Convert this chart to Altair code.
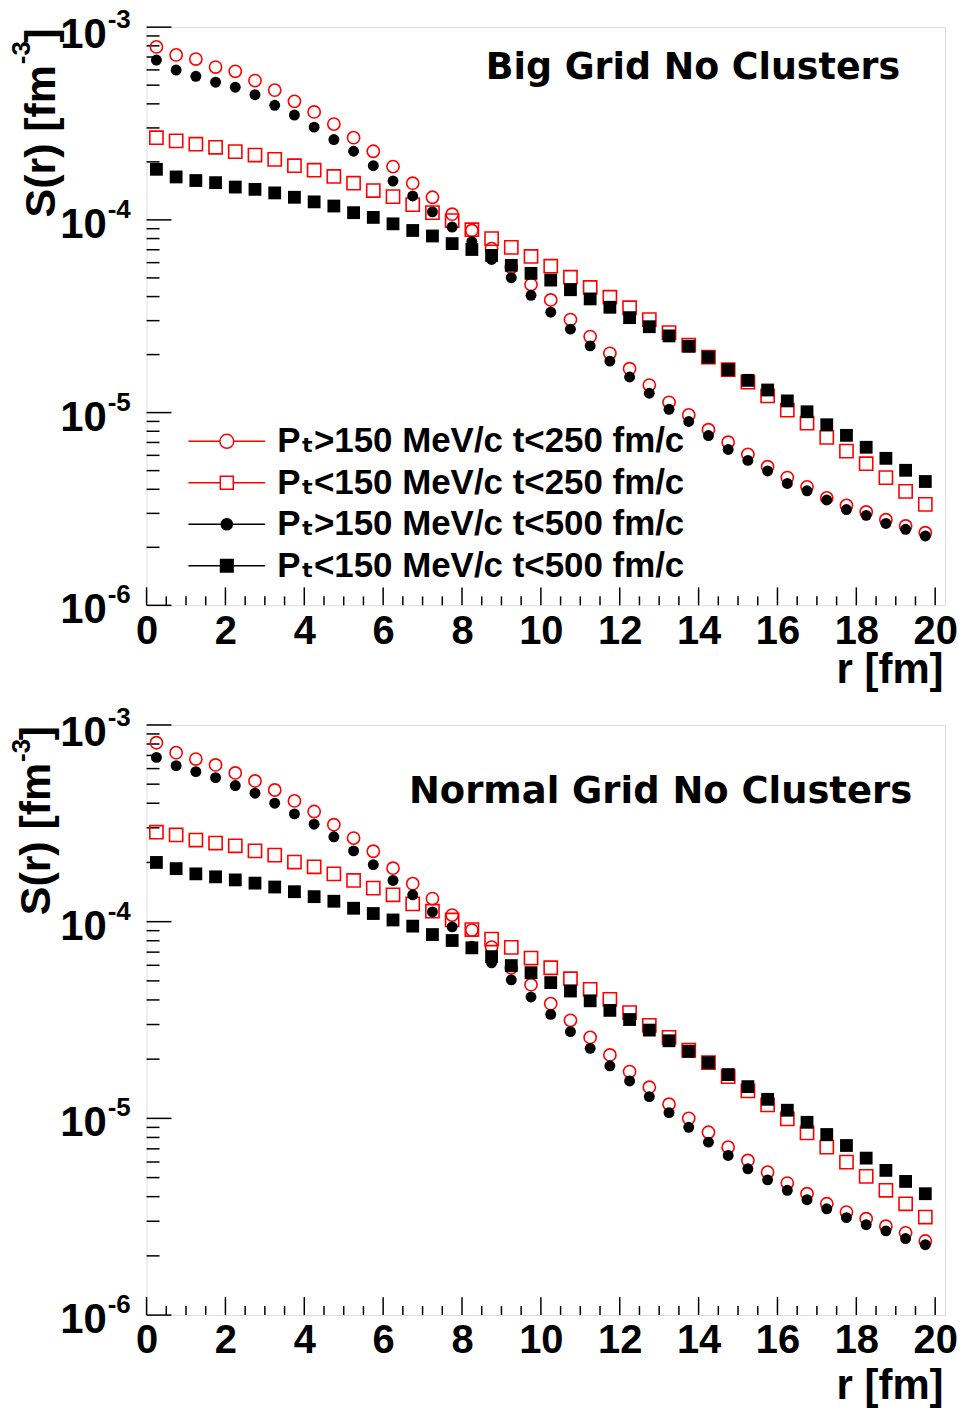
import altair as alt
import pandas as pd

FONT = "Liberation Sans, Arial, DejaVu Sans, sans-serif"
TFONT = "DejaVu Sans, Liberation Sans, sans-serif"

r_values = [0.25, 0.75, 1.25, 1.75, 2.25, 2.75, 3.25, 3.75, 4.25, 4.75,
            5.25, 5.75, 6.25, 6.75, 7.25, 7.75, 8.25, 8.75, 9.25, 9.75,
            10.25, 10.75, 11.25, 11.75, 12.25, 12.75, 13.25, 13.75, 14.25, 14.75,
            15.25, 15.75, 16.25, 16.75, 17.25, 17.75, 18.25, 18.75, 19.25, 19.75]

series_names = ["Pₜ>150 MeV/c t<250 fm/c", "Pₜ<150 MeV/c t<250 fm/c",
                "Pₜ>150 MeV/c t<500 fm/c", "Pₜ<150 MeV/c t<500 fm/c"]
panel_titles = ["Big Grid No Clusters", "Normal Grid No Clusters"]

# ---- top panel (Big Grid) ----
top_circ_red = [7.90e-4, 7.18e-4, 6.83e-4, 6.21e-4, 5.90e-4, 5.28e-4, 4.71e-4, 4.12e-4, 3.63e-4, 3.14e-4,
                2.67e-4, 2.27e-4, 1.89e-4, 1.55e-4, 1.31e-4, 1.07e-4, 8.81e-5, 7.10e-5, 5.67e-5, 4.62e-5,
                3.84e-5, 3.04e-5, 2.48e-5, 2.03e-5, 1.69e-5, 1.39e-5, 1.13e-5, 9.73e-6, 8.15e-6, 7.02e-6,
                6.07e-6, 5.24e-6, 4.60e-6, 4.12e-6, 3.61e-6, 3.30e-6, 3.05e-6, 2.78e-6, 2.58e-6, 2.38e-6]
top_sq_red = [2.67e-4, 2.57e-4, 2.47e-4, 2.38e-4, 2.26e-4, 2.17e-4, 2.06e-4, 1.91e-4, 1.81e-4, 1.68e-4,
              1.55e-4, 1.42e-4, 1.32e-4, 1.20e-4, 1.09e-4, 9.92e-5, 8.89e-5, 7.99e-5, 7.20e-5, 6.46e-5,
              5.75e-5, 5.04e-5, 4.46e-5, 3.97e-5, 3.50e-5, 3.04e-5, 2.60e-5, 2.24e-5, 1.94e-5, 1.67e-5,
              1.44e-5, 1.22e-5, 1.03e-5, 8.81e-6, 7.44e-6, 6.31e-6, 5.43e-6, 4.60e-6, 3.90e-6, 3.34e-6]
top_circ_blk = [6.75e-4, 5.99e-4, 5.56e-4, 5.18e-4, 4.88e-4, 4.46e-4, 3.93e-4, 3.50e-4, 3.03e-4, 2.61e-4,
                2.27e-4, 1.91e-4, 1.59e-4, 1.33e-4, 1.10e-4, 9.18e-5, 7.71e-5, 6.23e-5, 5.01e-5, 4.06e-5,
                3.32e-5, 2.71e-5, 2.22e-5, 1.85e-5, 1.53e-5, 1.26e-5, 1.04e-5, 8.99e-6, 7.60e-6, 6.44e-6,
                5.65e-6, 4.98e-6, 4.29e-6, 3.93e-6, 3.52e-6, 3.14e-6, 2.93e-6, 2.66e-6, 2.48e-6, 2.29e-6]
top_sq_blk = [1.83e-4, 1.67e-4, 1.60e-4, 1.56e-4, 1.48e-4, 1.44e-4, 1.38e-4, 1.31e-4, 1.24e-4, 1.18e-4,
              1.09e-4, 1.03e-4, 9.54e-5, 8.81e-5, 8.25e-5, 7.53e-5, 7.02e-5, 6.54e-5, 5.81e-5, 5.28e-5,
              4.87e-5, 4.34e-5, 3.89e-5, 3.52e-5, 3.11e-5, 2.79e-5, 2.50e-5, 2.21e-5, 1.94e-5, 1.67e-5,
              1.47e-5, 1.31e-5, 1.15e-5, 1.01e-5, 8.65e-6, 7.62e-6, 6.61e-6, 5.79e-6, 5.02e-6, 4.39e-6]

# ---- bottom panel (Normal Grid) ----
bot_circ_red = [8.12e-4, 7.23e-4, 6.71e-4, 6.26e-4, 5.70e-4, 5.19e-4, 4.67e-4, 4.11e-4, 3.63e-4, 3.11e-4,
                2.66e-4, 2.28e-4, 1.87e-4, 1.56e-4, 1.31e-4, 1.08e-4, 9.06e-5, 7.43e-5, 5.83e-5, 4.78e-5,
                3.83e-5, 3.15e-5, 2.58e-5, 2.10e-5, 1.73e-5, 1.44e-5, 1.18e-5, 1.00e-5, 8.50e-6, 7.14e-6,
                6.11e-6, 5.33e-6, 4.69e-6, 4.14e-6, 3.68e-6, 3.34e-6, 3.09e-6, 2.83e-6, 2.62e-6, 2.38e-6]
bot_sq_red = [2.85e-4, 2.76e-4, 2.60e-4, 2.51e-4, 2.43e-4, 2.29e-4, 2.18e-4, 2.01e-4, 1.90e-4, 1.75e-4,
              1.62e-4, 1.48e-4, 1.37e-4, 1.23e-4, 1.13e-4, 1.02e-4, 9.12e-5, 8.16e-5, 7.40e-5, 6.53e-5,
              5.83e-5, 5.13e-5, 4.53e-5, 4.03e-5, 3.45e-5, 2.97e-5, 2.58e-5, 2.22e-5, 1.92e-5, 1.63e-5,
              1.38e-5, 1.17e-5, 9.93e-6, 8.43e-6, 7.14e-6, 5.99e-6, 5.07e-6, 4.31e-6, 3.68e-6, 3.15e-6]
bot_circ_blk = [6.84e-4, 6.21e-4, 5.79e-4, 5.40e-4, 4.92e-4, 4.50e-4, 4.00e-4, 3.53e-4, 3.13e-4, 2.70e-4,
                2.29e-4, 1.95e-4, 1.62e-4, 1.37e-4, 1.12e-4, 9.41e-5, 7.51e-5, 6.18e-5, 5.06e-5, 4.14e-5,
                3.38e-5, 2.76e-5, 2.27e-5, 1.85e-5, 1.55e-5, 1.29e-5, 1.07e-5, 9.01e-6, 7.57e-6, 6.48e-6,
                5.54e-6, 4.87e-6, 4.31e-6, 3.86e-6, 3.47e-6, 3.13e-6, 2.88e-6, 2.68e-6, 2.45e-6, 2.28e-6]
bot_sq_blk = [2.00e-4, 1.86e-4, 1.75e-4, 1.69e-4, 1.63e-4, 1.57e-4, 1.50e-4, 1.42e-4, 1.34e-4, 1.27e-4,
              1.17e-4, 1.10e-4, 1.02e-4, 9.49e-5, 8.60e-5, 8.02e-5, 7.36e-5, 6.64e-5, 5.98e-5, 5.50e-5,
              4.90e-5, 4.44e-5, 3.96e-5, 3.54e-5, 3.18e-5, 2.81e-5, 2.48e-5, 2.19e-5, 1.92e-5, 1.67e-5,
              1.45e-5, 1.25e-5, 1.10e-5, 9.55e-6, 8.28e-6, 7.28e-6, 6.28e-6, 5.44e-6, 4.78e-6, 4.14e-6]

# ---- axes ticks / labels ----
x_major = [0, 2, 4, 6, 8, 10, 12, 14, 16, 18, 20]
x_minor = [i * 0.5 for i in range(41) if i % 4]
y_major = [1e-6, 1e-5, 1e-4, 1e-3]
y_minor = [m * 10.0 ** e for e in (-6, -5, -4) for m in range(2, 10)]
y_tick_base = ["10", "10", "10", "10"]
y_tick_exp = ["-6", "-5", "-4", "-3"]
y_title_parts = ["S(r) [fm", "-3", "]"]
x_title = "r [fm]"

# ---- styles ----
stroke_colors = ["#ff0000", "#ff0000", "#000000", "#000000"]
fill_colors = ["transparent", "transparent", "#000000", "#000000"]
legend_paths = [
    "M-5.5,0H-1M1,0H5.5M1,0A1,1,0,1,1,-1,0A1,1,0,1,1,1,0Z",
    "M-5.5,0H-0.93M0.93,0H5.5M-0.93,-0.93H0.93V0.93H-0.93Z",
    "M-5.5,0H5.5M0.8,0A0.8,0.8,0,1,1,-0.8,0A0.8,0.8,0,1,1,0.8,0Z",
    "M-5.5,0H5.5M-0.9,-0.9H0.9V0.9H-0.9Z",
]
marker_styles = [
    dict(shape="circle", filled=False, color="#ff0000", size=150, strokeWidth=1.6),
    dict(shape="square", filled=False, color="#ff0000", size=175, strokeWidth=1.6),
    dict(shape="circle", filled=True, color="#000000", size=120),
    dict(shape="square", filled=True, color="#000000", size=165),
]

XMAX = 20.25
W = 801
TXT = dict(font=FONT, fontWeight="bold", color="black")


def panel(series_vals, title_text, H, yt_main_x, yt_exp_x, xtitle_y, title_x, title_y, title_size,
          legend=False):
    xs = alt.Scale(domain=[0, XMAX], nice=False, zero=False)
    ys = alt.Scale(type="log", domain=[1e-6, 1e-3], nice=False)
    x_axis = alt.Axis(values=x_major, format="d", labelFont=FONT, labelFontSize=40, labelFontWeight="bold",
                      labelColor="black", labelPadding=6, ticks=False, domain=False, grid=False,
                      labelFlush=False, labelOverlap=False, labelBound=False,
                      title=x_title, titleFont=FONT, titleFontSize=42, titleFontWeight="bold",
                      titleColor="black", titleAlign="right", titleAnchor="end", titleBaseline="alphabetic",
                      titleX=W - 2, titleY=xtitle_y)
    X = alt.X("r:Q", scale=xs, axis=x_axis)
    Y = alt.Y("S:Q", scale=ys, axis=None)

    layers = []
    # ticks pointing inward
    layers.append(alt.Chart(pd.DataFrame({"r": x_major})).mark_rule(color="black", strokeWidth=1.5)
                  .encode(x=X, y=alt.value(H), y2=alt.value(H - 18)))
    layers.append(alt.Chart(pd.DataFrame({"r": x_minor})).mark_rule(color="black", strokeWidth=1.5)
                  .encode(x=X, y=alt.value(H), y2=alt.value(H - 9)))
    layers.append(alt.Chart(pd.DataFrame({"S": y_major})).mark_rule(color="black", strokeWidth=1.5)
                  .encode(y=Y, x=alt.value(0), x2=alt.value(25)))
    layers.append(alt.Chart(pd.DataFrame({"S": y_minor})).mark_rule(color="black", strokeWidth=1.5)
                  .encode(y=Y, x=alt.value(0), x2=alt.value(13)))
    # y tick labels 10^n (top decade label pushed slightly down, as in ROOT)
    ylab = pd.DataFrame({"S": y_major, "base": y_tick_base, "exp": y_tick_exp})
    for cond, dyb, dye in (("datum.S < 5e-4", 18, -2), ("datum.S >= 5e-4", 21, 1)):
        base = alt.Chart(ylab).transform_filter(cond)
        layers.append(base.mark_text(fontSize=42, align="right", baseline="alphabetic", dy=dyb, **TXT)
                      .encode(y=Y, x=alt.value(-40), text="base:N"))
        layers.append(base.mark_text(fontSize=26, align="left", baseline="alphabetic", dy=dye, **TXT)
                      .encode(y=Y, x=alt.value(-39), text="exp:N"))
    # y axis title S(r) [fm^-3], rotated
    for txt, size, xx, yy in ((y_title_parts[0], 43, yt_main_x, 38),
                              (y_title_parts[1], 26, yt_exp_x, 14),
                              (y_title_parts[2], 43, yt_main_x, 1)):
        layers.append(alt.Chart(pd.DataFrame({"t": [txt]})).mark_text(
            fontSize=size, angle=270, align="right", baseline="alphabetic", **TXT)
            .encode(text="t:N", x=alt.value(xx), y=alt.value(yy)))
    # data series
    for name, vals, st in zip(series_names, series_vals, marker_styles):
        df = pd.DataFrame({"r": r_values, "S": vals, "series": name})
        layers.append(alt.Chart(df).mark_point(opacity=1, **st).encode(x=X, y=Y))
    # panel title
    layers.append(alt.Chart(pd.DataFrame({"t": [title_text]})).mark_text(
        font=TFONT, fontSize=title_size, fontWeight="bold", color="black", align="right",
        baseline="alphabetic").encode(text="t:N", x=alt.value(title_x), y=alt.value(title_y)))
    if legend:
        leg = alt.Legend(title=None, orient="none", legendX=63, legendY=398, padding=0,
                         labelFont=FONT, labelFontSize=35, labelFontWeight="bold", labelColor="black",
                         labelLimit=0, labelOffset=33, rowPadding=5.6, symbolSize=196,
                         symbolStrokeWidth=1.5)
        leg_df = pd.DataFrame({"series": series_names})
        layers.append(alt.Chart(leg_df).transform_filter("false").mark_point(opacity=1, strokeWidth=1.5).encode(
            shape=alt.Shape("series:N", scale=alt.Scale(domain=series_names, range=legend_paths), legend=leg),
            stroke=alt.Stroke("series:N", scale=alt.Scale(domain=series_names, range=stroke_colors), legend=leg),
            fill=alt.Fill("series:N", scale=alt.Scale(domain=series_names, range=fill_colors), legend=leg),
        ))
    return alt.layer(*layers).properties(width=W, height=H)


top = panel([top_circ_red, top_sq_red, top_circ_blk, top_sq_blk], panel_titles[0], 580,
            yt_main_x=-92, yt_exp_x=-117, xtitle_y=77, title_x=W - 45, title_y=52, title_size=36.5,
            legend=True)
bottom = panel([bot_circ_red, bot_sq_red, bot_circ_blk, bot_sq_blk], panel_titles[1], 592,
               yt_main_x=-97, yt_exp_x=-117, xtitle_y=84, title_x=W - 33, title_y=78, title_size=37)

chart = alt.vconcat(top, bottom, spacing=120, bounds="flush").properties(
    padding={"left": 0, "top": -4, "right": 0, "bottom": 0}
).configure_view(stroke="black", strokeWidth=2).configure(background="white")

chart.save("out.html", embed_options={"renderer": "svg", "actions": False})
